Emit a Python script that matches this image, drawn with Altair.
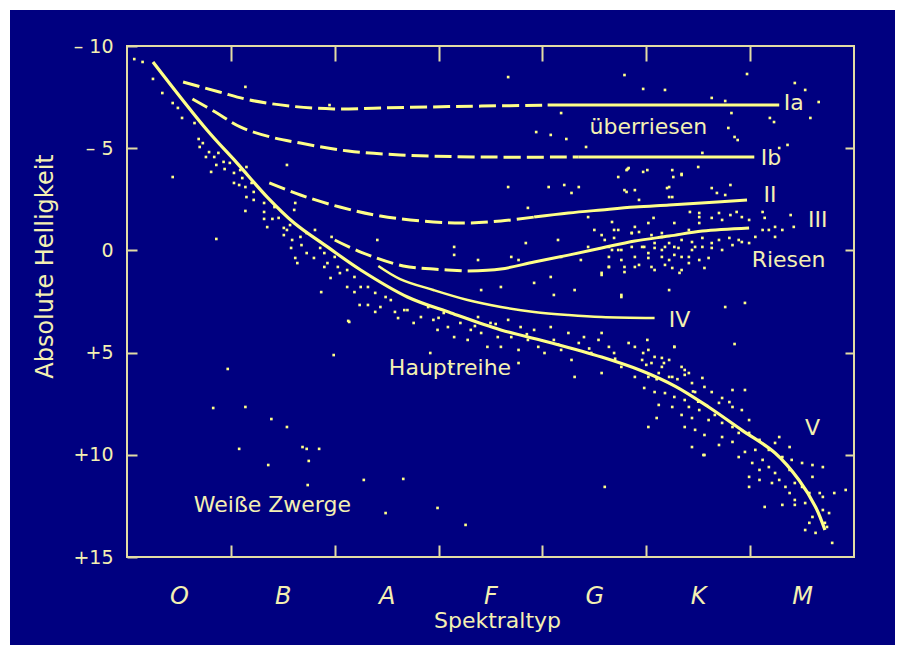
import altair as alt
import pandas as pd

# ---------------- data ----------------
spectral_classes = ['O', 'B', 'A', 'F', 'G', 'K', 'M']
ytick_values = [-10, -5, 0, 5, 10, 15]
ytick_labels = ['\u2013 10', '\u2013 5', '0', '+5', '+10', '+15']

# luminosity-class curves (x: spectral position 0..7, y: absolute magnitude)
main_x = [0.25, 0.77, 1.06, 1.35, 1.61, 1.93, 2.25, 2.70, 3.12, 3.60, 4.09, 4.57,
          4.96, 5.28, 5.60, 5.92, 6.24, 6.47, 6.63, 6.72]
main_y = [-9.22, -5.89, -4.27, -2.61, -1.34, -0.17, 0.96, 2.28, 3.06, 3.89, 4.53, 5.22,
          5.90, 6.65, 7.66, 8.79, 9.91, 11.23, 12.55, 13.68]

ia_x = [0.54, 0.89, 1.18, 1.57, 1.99, 2.44, 2.93, 3.41, 4.05, 6.28]
ia_y = [-8.24, -7.75, -7.36, -7.06, -6.92, -6.97, -7.02, -7.06, -7.11, -7.11]
ia_solid_from = 4.05

ib_x = [0.63, 0.85, 1.09, 1.38, 1.67, 2.13, 2.63, 3.41, 4.35, 6.04]
ib_y = [-7.41, -6.77, -6.04, -5.55, -5.25, -4.86, -4.67, -4.57, -4.57, -4.57]
ib_solid_from = 4.35

ii_x = [1.37, 1.67, 2.05, 2.44, 2.95, 3.28, 3.60, 3.92, 4.25, 4.57, 4.89, 5.22, 5.53, 5.97]
ii_y = [-3.30, -2.71, -2.12, -1.68, -1.39, -1.34, -1.44, -1.63, -1.83, -1.98, -2.12, -2.22, -2.32, -2.47]
ii_solid_from = 3.92

iii_x = [2.00, 2.25, 2.66, 2.95, 3.28, 3.60, 3.92, 4.25, 4.57, 4.89, 5.22, 5.54, 5.99]
iii_y = [-0.51, 0.08, 0.76, 0.91, 1.01, 0.91, 0.57, 0.23, -0.12, -0.46, -0.70, -0.95, -1.10]
iii_solid_from = 3.28

iv_x = [2.42, 2.63, 2.95, 3.28, 3.60, 3.92, 4.25, 4.57, 5.08]
iv_y = [0.76, 1.40, 1.94, 2.43, 2.77, 3.01, 3.16, 3.26, 3.31]

# individual stars, read region by region
stars_hot = [(0.07, -9.36), (0.15, -9.22), (0.25, -8.39), (0.34, -7.70), (0.44, -7.21), (0.49, -6.97),
             (0.53, -6.48), (0.65, -6.23), (0.70, -5.06), (0.44, -3.59), (0.86, -0.56), (1.14, -8.0),
             (1.95, -7.11), (2.41, -0.51), (1.54, -4.18),
             (0.69, -5.45), (0.73, -5.25), (0.79, -4.81), (0.76, -4.57), (0.84, -4.57), (0.88, -4.77),
             (0.86, -4.18), (0.93, -4.33), (0.81, -3.84), (0.94, -3.98), (0.99, -4.28), (1.03, -3.79),
             (1.09, -3.93), (1.15, -4.08), (1.11, -3.54), (1.03, -3.30), (1.08, -3.20), (1.14, -3.10),
             (1.20, -3.30), (1.15, -2.61), (1.22, -2.47), (1.22, -2.86), (1.14, -1.93), (1.32, -2.32),
             (1.32, -1.88), (1.42, -2.12), (1.40, -1.54), (1.32, -1.54), (1.35, -1.14), (1.46, -1.59),
             (1.51, -1.10), (1.57, -1.24), (1.62, -2.32), (1.61, -1.98), (1.54, -1.00), (1.51, -0.75),
             (1.59, -0.51), (1.58, -0.12), (1.67, -0.66), (1.73, -0.85), (1.81, -1.00), (1.68, -0.26),
             (1.62, 0.37), (1.64, 0.62), (1.73, 0.13), (1.80, 0.37), (1.86, -0.12), (1.90, 0.13),
             (1.93, 0.62), (1.90, 0.81), (1.97, -0.66), (2.00, 0.32), (2.03, 0.81), (1.96, 1.35),
             (2.05, 1.11), (2.12, 0.96), (2.19, 1.30), (2.12, 1.79), (2.19, 2.04), (2.25, 1.79),
             (2.32, 1.79), (2.24, 2.67), (2.32, 2.67), (2.39, 3.01), (2.44, 2.77), (2.39, 2.08),
             (2.49, 2.28), (2.54, 2.43), (2.58, 3.01), (2.61, 3.31), (2.67, 2.92), (2.14, 3.50),
             (1.87, 2.04)]

stars_main = [(2.70, 2.92), (2.76, 3.55), (2.83, 3.26), (2.90, 2.77), (2.95, 3.40), (2.99, 3.89),
              (3.05, 3.06), (3.09, 3.75), (3.15, 4.24), (3.21, 3.55), (3.28, 4.38), (3.31, 3.89),
              (3.38, 3.26), (3.41, 4.04), (3.47, 4.72), (3.50, 3.55), (3.57, 4.24), (3.60, 4.72),
              (3.67, 3.40), (3.70, 4.24), (3.77, 4.87), (3.79, 3.75), (3.86, 4.38), (3.92, 3.89),
              (3.96, 4.72), (4.02, 5.02), (4.08, 3.75), (4.11, 4.38), (4.18, 4.87), (4.25, 4.04),
              (4.28, 5.36), (4.35, 4.53), (4.40, 4.24), (4.47, 5.02), (4.54, 4.38), (4.57, 4.04),
              (4.64, 4.72), (4.69, 5.02), (4.76, 5.70), (4.83, 4.53), (4.89, 4.72), (4.96, 5.36),
              (5.02, 4.87), (5.08, 5.21), (5.15, 5.70), (5.22, 5.36), (5.27, 4.72), (5.34, 5.70),
              (5.41, 6.00), (2.92, 5.02), (3.12, 5.70), (3.77, 5.51), (4.31, 6.19), (4.57, 6.00),
              (4.89, 6.19), (5.22, 6.19), (3.00, 3.30), (3.35, 3.70), (3.55, 3.60), (3.85, 4.10),
              (4.15, 4.60), (4.45, 4.80), (4.70, 5.30), (5.00, 5.60), (5.10, 6.30), (5.30, 6.30),
              (5.45, 6.90), (5.50, 7.40)]

stars_giant = [(3.15, -0.17), (3.15, 0.22), (3.38, 0.47), (3.67, -3.10), (3.86, -2.08), (3.84, -0.36),
               (4.06, -3.10), (4.21, -3.20), (4.35, -3.10), (4.28, -2.81), (4.44, -1.63), (4.31, 1.94),
               (4.11, 2.18), (3.92, 1.59), (3.60, 1.79), (3.41, 1.94), (3.77, 0.47), (4.08, 1.30),
               (4.15, -0.51), (4.50, -1.00), (4.57, -0.75), (4.69, -1.00), (4.76, -0.02), (4.86, -0.85),
               (4.89, -1.15), (4.96, -0.17), (5.02, 0.13), (5.08, -0.36), (5.15, -0.02), (5.22, 0.47),
               (5.27, -0.17), (5.34, 0.32), (5.41, 0.62), (5.47, -0.17), (5.51, -1.34), (5.41, -1.00),
               (5.27, -1.34), (5.15, -0.85), (5.02, -1.34), (4.89, -2.95), (4.79, -2.95), (5.22, -3.10),
               (5.25, -2.61), (5.51, -1.63), (5.22, 1.94), (4.76, 2.28), (4.57, 1.10), (4.64, 0.81),
               (4.89, 0.81), (5.08, 0.96), (4.37, 0.47), (4.67, -0.02), (4.44, -0.17), (4.18, 0.32),
               (3.70, 0.32),
               (4.73, -3.59), (4.81, -3.93), (5.01, -3.93), (5.25, -3.93), (5.34, -3.69), (5.26, -3.59),
               (4.81, -2.86), (5.22, -2.61), (5.63, -3.05), (5.68, -2.81), (5.76, -2.71), (5.81, -3.20),
               (4.93, -2.47), (4.67, -1.39), (5.07, -1.59), (5.42, -1.88), (5.51, -1.83), (5.63, -1.59),
               (5.70, -1.83), (5.73, -1.49), (5.81, -1.73), (5.87, -1.88), (5.92, -1.63), (5.99, -1.49),
               (6.12, -1.88), (6.14, -1.59), (6.24, -1.15), (6.31, -1.00), (6.39, -1.73), (6.42, -1.15),
               (6.12, -1.00), (6.18, -1.00), (6.05, -0.66), (6.24, -0.66), (5.89, -0.51), (5.99, -0.36),
               (5.80, -0.61), (5.70, -0.51), (5.63, -0.36), (5.54, -0.61), (5.44, -0.41), (5.34, -0.51),
               (5.22, -0.36), (5.15, -0.66), (5.05, -0.75), (4.93, -0.90), (4.86, -0.85), (4.73, -1.00),
               (4.69, -0.61), (4.60, -0.51), (4.64, -0.17), (4.73, -0.02), (4.86, -0.17), (4.98, -0.17),
               (5.08, -0.12), (5.18, -0.17), (5.31, -0.12), (5.44, -0.02), (5.54, -0.17), (5.63, -0.12),
               (5.73, -0.02), (5.83, -0.26), (5.92, -0.41), (4.64, 0.32), (4.76, 0.47), (4.89, 0.32),
               (5.02, 0.37), (5.15, 0.32), (5.27, 0.22), (5.41, 0.32), (5.51, 0.47), (5.60, 0.37),
               (4.64, 0.81), (4.79, 0.81), (4.93, 0.71), (5.05, 0.81), (5.18, 0.71), (5.25, 0.86),
               (5.34, 0.96), (5.56, 0.86), (4.57, 1.20), (4.79, 1.06), (5.32, 1.10), (5.95, 2.57),
               (5.76, 2.77), (4.76, 2.18)]

stars_super = [(4.79, -8.58), (4.97, -7.90), (5.18, -7.85), (5.63, -7.46), (5.76, -7.31), (5.82, -6.72),
               (5.79, -5.99), (5.85, -5.55), (5.88, -5.40), (5.97, -8.63), (6.19, -6.48), (6.23, -6.28),
               (6.36, -5.16), (6.28, -5.01), (6.43, -8.19), (6.53, -7.85), (6.58, -6.48), (6.66, -7.26),
               (5.54, -4.77), (5.50, -4.08), (5.34, -3.74), (4.82, -3.98), (5.20, -3.05), (3.67, -8.48),
               (4.18, -6.72), (3.94, -5.79), (4.08, -5.65), (4.23, -5.45), (4.42, -5.06), (4.83, -4.03),
               (4.97, -3.84)]

stars_cool = [(5.01, 4.38), (5.27, 4.72), (5.85, 4.58), (5.15, 5.26), (5.17, 5.51), (4.97, 5.02),
              (5.05, 5.51), (5.02, 6.19), (5.12, 6.00), (5.25, 6.19), (5.37, 6.09), (5.37, 5.85),
              (5.54, 6.24), (5.44, 6.49), (4.98, 6.73), (5.08, 6.93), (5.18, 6.98), (5.27, 7.17),
              (5.37, 7.32), (5.47, 6.93), (5.56, 6.68), (5.63, 6.93), (5.73, 7.22), (5.83, 6.83),
              (5.95, 6.83), (5.70, 7.46), (5.80, 7.42), (5.83, 7.66), (5.92, 7.81), (5.99, 8.30),
              (5.12, 7.56), (5.25, 7.66), (5.41, 7.66), (5.51, 7.81), (5.34, 8.05), (5.44, 8.20),
              (5.60, 8.30), (5.66, 8.05), (5.73, 8.44), (5.83, 8.64), (5.89, 8.93), (5.99, 8.93),
              (6.09, 9.27), (5.02, 8.64), (5.10, 8.20), (5.37, 8.64), (5.47, 8.78), (5.56, 9.03),
              (5.73, 9.13), (5.83, 9.37), (5.44, 9.62), (5.56, 10.01), (5.70, 9.52), (5.89, 10.11),
              (5.95, 9.86), (6.05, 9.76), (6.12, 10.25), (6.18, 9.76), (6.24, 9.42), (6.28, 9.13),
              (6.38, 9.62), (6.31, 10.11), (6.40, 10.25), (6.50, 10.40), (6.60, 10.50), (6.70, 10.60),
              (6.02, 10.40), (6.09, 10.74), (6.18, 10.60), (6.24, 10.89), (6.38, 10.74), (5.99, 11.08),
              (6.09, 11.23), (5.99, 11.57), (6.21, 11.38), (6.28, 11.23), (6.34, 11.57), (6.43, 11.38),
              (6.50, 11.57), (6.60, 11.08), (6.57, 11.87), (6.38, 11.87), (6.43, 12.21), (6.53, 12.36),
              (6.67, 11.87), (6.70, 12.06), (6.81, 11.87), (6.92, 11.72), (6.14, 12.55), (6.31, 12.45),
              (6.43, 12.45), (6.70, 12.70), (6.76, 12.85), (6.60, 13.04), (6.72, 13.33), (6.57, 13.33),
              (6.53, 13.68), (6.63, 13.82), (6.74, 13.53), (6.79, 14.31), (5.55, 10.01), (4.60, 11.57)]

stars_dwarf = [(1.99, 5.12), (0.97, 5.80), (0.83, 7.71), (1.14, 7.66), (1.39, 8.25), (1.54, 8.64),
               (1.08, 9.71), (1.69, 9.62), (1.73, 9.71), (1.85, 9.71), (1.75, 10.30), (1.36, 10.50),
               (1.74, 11.48), (2.28, 11.23), (2.66, 11.18), (2.49, 12.85), (2.13, 3.45), (2.99, 12.60),
               (3.26, 13.43)]

label_text = ['Ia', '\u00fcberriesen', 'Ib', 'II', 'III', 'Riesen', 'IV', 'Hauptreihe', 'V', 'Wei\u00dfe Zwerge']
label_x = [6.42, 5.02, 6.20, 6.19, 6.65, 6.37, 5.32, 3.11, 6.60, 1.40]
label_y = [-7.21, -6.04, -4.52, -2.71, -1.49, 0.47, 3.40, 5.75, 8.69, 12.45]

# ---------------- styling ----------------
W, H = 727, 511
NAVY = '#000080'
LINE = '#FFFF88'
FRAME = '#E2DCA4'
TEXT = '#F4F0B2'
FONT = 'DejaVu Sans'

xs = alt.Scale(domain=[0, 7], nice=False, zero=False)
ys = alt.Scale(domain=[-10, 15], reverse=True, nice=False, zero=False)


def curve(xv, yv):
    return pd.DataFrame({'x': xv, 'y': yv})


def line_layer(df, dashed=False, width=3):
    kw = dict(color=LINE, strokeWidth=width, interpolate='catmull-rom', strokeCap='butt')
    if dashed:
        kw['strokeDash'] = [17, 6]
    return alt.Chart(df).mark_line(**kw).encode(
        x=alt.X('x:Q', scale=xs, axis=None),
        y=alt.Y('y:Q', scale=ys, axis=None),
        order='x:Q')


def split_layers(xv, yv, solid_from):
    df = curve(xv, yv)
    return [line_layer(df[df.x <= solid_from], dashed=True),
            line_layer(df[df.x >= solid_from], dashed=False)]


one = pd.DataFrame({'k': [0]})
bg = alt.Chart(one).mark_rect(color=NAVY).encode(
    x=alt.value(-117), x2=alt.value(W + 41), y=alt.value(-36), y2=alt.value(H + 88))
frame = alt.Chart(one).mark_rect(fillOpacity=0, stroke=FRAME, strokeWidth=2).encode(
    x=alt.value(0), x2=alt.value(W), y=alt.value(0), y2=alt.value(H))

all_stars = stars_hot + stars_main + stars_giant + stars_super + stars_cool + stars_dwarf
stars_df = pd.DataFrame(all_stars, columns=['x', 'y'])
stars = alt.Chart(stars_df).mark_square(size=7, color=LINE, opacity=1).encode(
    x=alt.X('x:Q', scale=xs, axis=None),
    y=alt.Y('y:Q', scale=ys, axis=None))

lines = [line_layer(curve(main_x, main_y), width=3.2)]
lines += split_layers(ia_x, ia_y, ia_solid_from)
lines += split_layers(ib_x, ib_y, ib_solid_from)
lines += split_layers(ii_x, ii_y, ii_solid_from)
lines += split_layers(iii_x, iii_y, iii_solid_from)
lines += [line_layer(curve(iv_x, iv_y), width=2.5)]

labels_df = pd.DataFrame({'t': label_text, 'x': label_x, 'y': label_y})
labels = alt.Chart(labels_df).mark_text(font=FONT, fontSize=22, color=TEXT,
                                        align='center', baseline='middle').encode(
    x=alt.X('x:Q', scale=xs, axis=None),
    y=alt.Y('y:Q', scale=ys, axis=None),
    text='t:N')

y_expr = ' : '.join(f"datum.value == {v} ? '{l}'" for v, l in zip(ytick_values, ytick_labels)) + " : ''"
x_expr = '[' + ','.join(f"'{c}'" for c in spectral_classes) + '][floor(datum.value)]'
inner_ticks = [1, 2, 3, 4, 5, 6]
label_pos = [i + 0.5 for i in range(len(spectral_classes))]

axdf = pd.DataFrame({'x': [0, 7], 'y': [-10, 15]})
ax_main = alt.Chart(axdf).mark_point(opacity=0).encode(
    x=alt.X('x:Q', scale=xs, axis=alt.Axis(
        orient='bottom', values=inner_ticks, labels=False, domain=False, grid=False,
        tickSize=12, tickWidth=2, tickColor=FRAME, offset=-12, title=None, zindex=3)),
    y=alt.Y('y:Q', scale=ys, axis=alt.Axis(
        orient='left', values=ytick_values, labelExpr=y_expr, domain=False, grid=False,
        tickSize=10, tickWidth=2, tickColor=FRAME, offset=-10, labelPadding=14,
        labelFont=FONT, labelFontSize=19, labelColor=TEXT, labelAlign='right',
        labelBaseline='middle', labelOverlap=False, labelFlush=False,
        title='Absolute Helligkeit', titleFont=FONT, titleFontSize=24,
        titleFontWeight='normal', titleColor=TEXT, titleAngle=270,
        titleAlign='center', titleBaseline='middle', titleX=-92, titleY=220, zindex=3)))

ax_opp = alt.Chart(axdf).mark_point(opacity=0).encode(
    x=alt.X('x:Q', scale=xs, axis=alt.Axis(
        orient='top', values=inner_ticks, labels=False, domain=False, grid=False,
        tickSize=15, tickWidth=2, tickColor=FRAME, offset=-15, title=None, zindex=3)),
    y=alt.Y('y:Q', scale=ys, axis=alt.Axis(
        orient='right', values=[-5, 0, 5, 10], labels=False, domain=False, grid=False,
        tickSize=9, tickWidth=2, tickColor=FRAME, offset=-9, title=None, zindex=3)))

ax_lab = alt.Chart(axdf).mark_point(opacity=0).encode(
    x=alt.X('x:Q', scale=xs, axis=alt.Axis(
        orient='bottom', values=label_pos, labelExpr=x_expr, ticks=False, domain=False,
        grid=False, labelPadding=27, labelFont=FONT, labelFontSize=24, labelFontStyle='italic',
        labelColor=TEXT, labelBaseline='top', labelFlush=False, labelOverlap=False,
        title='Spektraltyp', titleFont=FONT, titleFontSize=22, titleFontWeight='normal',
        titleColor=TEXT, titlePadding=2, titleX=370, zindex=3)),
    y=alt.Y('y:Q', scale=ys, axis=None))

chart = alt.layer(bg, stars, *lines, labels, frame, ax_main, ax_opp, ax_lab).resolve_axis(
    x='independent', y='independent'
).properties(
    width=W, height=H, background='white',
    padding={'left': 10, 'top': 10, 'right': 4, 'bottom': 3}
).configure_view(stroke=None)

chart.save('out.html', embed_options={'renderer': 'svg', 'actions': False})
